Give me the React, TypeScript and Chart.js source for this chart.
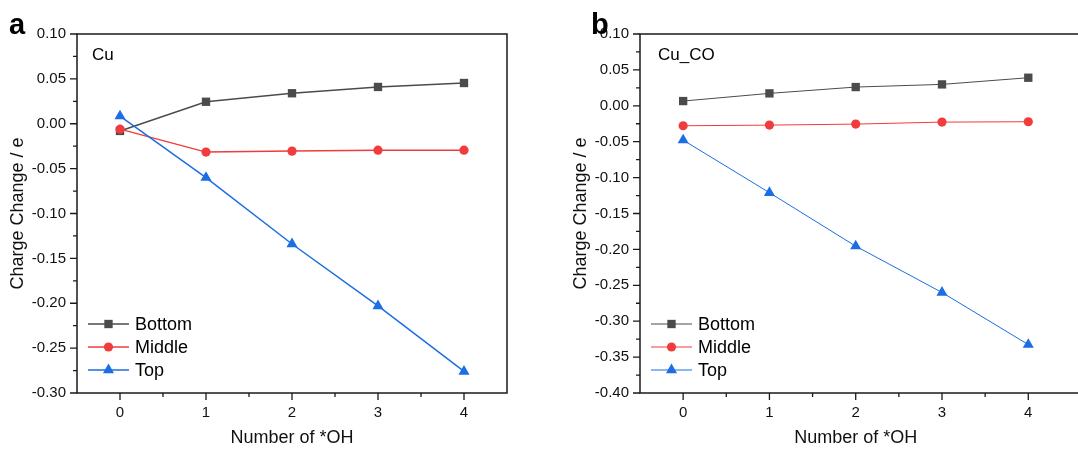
import React, { useEffect, useRef } from "react";
import { Chart, registerables } from "chart.js";

Chart.register(...registerables);

const xValues = [0, 1, 2, 3, 4];
const xTicks = [0, 1, 2, 3, 4];
const seriesNames = ["Bottom", "Middle", "Top"];
const seriesColors = ["#4b4b4b", "#f03c3c", "#1b6ee3"];
const seriesShapes = ["rect", "circle", "triangle"];
const seriesRadius = [5.9, 4.6, 6.4];

// Panel a: Cu
const cuBottom = [-0.008, 0.0245, 0.034, 0.041, 0.0454];
const cuMiddle = [-0.006, -0.0316, -0.0305, -0.0294, -0.0294];
const cuTop = [0.0086, -0.06, -0.134, -0.203, -0.276];
const yTicksA = [0.1, 0.05, 0.0, -0.05, -0.1, -0.15, -0.2, -0.25, -0.3];

// Panel b: Cu_CO
const cocBottom = [0.0066, 0.0173, 0.0261, 0.0298, 0.0391];
const cocMiddle = [-0.0278, -0.0269, -0.0255, -0.0227, -0.0222];
const cocTop = [-0.0478, -0.121, -0.1955, -0.26, -0.3326];
const yTicksB = [0.1, 0.05, 0.0, -0.05, -0.1, -0.15, -0.2, -0.25, -0.3, -0.35, -0.4];

const xTitle = "Number of *OH";
const yTitle = "Charge Change / e";

const FONT = "'Liberation Sans', Arial, sans-serif";

function drawMarker(ctx: CanvasRenderingContext2D, shape: string, x: number, y: number, r: number) {
  ctx.beginPath();
  if (shape === "rect") {
    const s = r * Math.SQRT1_2;
    ctx.rect(x - s, y - s, 2 * s, 2 * s);
  } else if (shape === "circle") {
    ctx.arc(x, y, r, 0, Math.PI * 2);
  } else {
    ctx.moveTo(x, y - r);
    ctx.lineTo(x + Math.sin((2 * Math.PI) / 3) * r, y + r / 2);
    ctx.lineTo(x - Math.sin((2 * Math.PI) / 3) * r, y + r / 2);
    ctx.closePath();
  }
  ctx.fill();
}

const framePlugin = {
  id: "frame",
  afterDraw(chart: any, _args: any, opts: any) {
    const ctx: CanvasRenderingContext2D = chart.ctx;
    const { left, right, top, bottom } = chart.chartArea;
    const xs = chart.scales.x;
    const ys = chart.scales.y;
    ctx.save();
    ctx.strokeStyle = "#1a1a1a";
    ctx.lineWidth = 1.5;
    ctx.strokeRect(left, top, right - left, bottom - top);
    ctx.lineWidth = 1.3;
    ctx.beginPath();
    const yt: number[] = ys.ticks.map((t: any) => t.value);
    yt.forEach((v, i) => {
      const p = ys.getPixelForValue(v);
      ctx.moveTo(left - 7, p);
      ctx.lineTo(left, p);
      if (i < yt.length - 1) {
        const m = ys.getPixelForValue((v + yt[i + 1]) / 2);
        ctx.moveTo(left - 4, m);
        ctx.lineTo(left, m);
      }
    });
    const xt: number[] = xs.ticks.map((t: any) => t.value);
    xt.forEach((v, i) => {
      const p = xs.getPixelForValue(v);
      ctx.moveTo(p, bottom);
      ctx.lineTo(p, bottom + 7);
      if (i < xt.length - 1) {
        const m = xs.getPixelForValue((v + xt[i + 1]) / 2);
        ctx.moveTo(m, bottom);
        ctx.lineTo(m, bottom + 4);
      }
    });
    ctx.stroke();

    // x axis title, centred on the visible axis range
    ctx.fillStyle = "#111";
    ctx.font = `18px ${FONT}`;
    ctx.textAlign = "center";
    ctx.textBaseline = "middle";
    ctx.fillText(xTitle, xs.getPixelForValue((xt[0] + xt[xt.length - 1]) / 2), 438);

    // panel label
    ctx.fillStyle = "#000";
    ctx.font = `17px ${FONT}`;
    ctx.textBaseline = "middle";
    ctx.textAlign = "left";
    ctx.fillText(opts.label, left + opts.labelDx, top + 21);

    // legend
    chart.data.datasets.forEach((ds: any, i: number) => {
      const y = bottom - 69 + i * 23;
      ctx.strokeStyle = ds.borderColor;
      ctx.lineWidth = ds.borderWidth;
      ctx.beginPath();
      ctx.moveTo(left + 11, y);
      ctx.lineTo(left + 52, y);
      ctx.stroke();
      ctx.fillStyle = ds.pointBackgroundColor;
      drawMarker(ctx, ds.pointStyle, left + 31.5, y, ds.pointRadius);
      ctx.fillStyle = "#000";
      ctx.font = `18px ${FONT}`;
      ctx.fillText(ds.label, left + 58, y + 1);
    });
    ctx.restore();
  },
};

function makeConfig(
  series: number[][],
  yTicks: number[],
  label: string,
  labelDx: number,
  lw: number,
  xMax: number,
  padRight: number
): any {
  return {
    type: "line",
    data: {
      datasets: series.map((vals, i) => ({
        label: seriesNames[i],
        data: xValues.map((x, j) => ({ x, y: vals[j] })),
        borderColor: seriesColors[i],
        backgroundColor: seriesColors[i],
        pointBackgroundColor: seriesColors[i],
        pointBorderColor: seriesColors[i],
        pointBorderWidth: 0,
        borderWidth: lw,
        pointStyle: seriesShapes[i],
        pointRadius: seriesRadius[i],
        tension: 0,
        order: 3 - i,
      })),
    },
    options: {
      responsive: false,
      animation: false,
      layout: { padding: { top: 34, right: padRight, left: 0, bottom: 0 } },
      plugins: {
        legend: { display: false },
        tooltip: { enabled: false },
        frame: { label, labelDx },
      },
      scales: {
        x: {
          type: "linear",
          min: -0.5,
          max: xMax,
          grid: { display: false },
          border: { display: false },
          afterBuildTicks: (s: any) => {
            s.ticks = xTicks.map((v) => ({ value: v }));
          },
          afterFit: (s: any) => {
            s.height = 57;
          },
          ticks: {
            font: { family: FONT, size: 15 },
            color: "#111",
            padding: 3,
            maxRotation: 0,
            callback: (v: any) => String(v),
          },
          title: { display: false },
        },
        y: {
          type: "linear",
          min: yTicks[yTicks.length - 1],
          max: yTicks[0],
          grid: { display: false },
          border: { display: false },
          afterBuildTicks: (s: any) => {
            s.ticks = yTicks.slice().reverse().map((v) => ({ value: v }));
          },
          afterFit: (s: any) => {
            s.width = 77;
          },
          ticks: {
            font: { family: FONT, size: 15 },
            color: "#111",
            padding: 3,
            callback: (v: any) => Number(v).toFixed(2),
          },
          title: {
            display: true,
            text: yTitle,
            font: { family: FONT, size: 18 },
            color: "#111",
            padding: { top: 7, bottom: 0 },
          },
        },
      },
    },
    plugins: [framePlugin],
  };
}

function Panel(props: { config: any; left: number }) {
  const ref = useRef<HTMLCanvasElement>(null);
  useEffect(() => {
    if (!ref.current) return;
    const chart = new Chart(ref.current, props.config);
    return () => chart.destroy();
  }, []);
  return (
    <canvas
      ref={ref}
      width={540}
      height={450}
      style={{ position: "absolute", left: props.left, top: 0, width: 540, height: 450 }}
    />
  );
}

export default function App() {
  const cfgA = makeConfig([cuBottom, cuMiddle, cuTop], yTicksA, "Cu", 15, 1.5, 4.5, 33);
  const cfgB = makeConfig([cocBottom, cocMiddle, cocTop], yTicksB, "Cu_CO", 18, 1, 4.75, 10);
  const letter: React.CSSProperties = {
    position: "absolute",
    top: 7,
    font: `bold 29px ${FONT}`,
    color: "#000",
    lineHeight: "34px",
  };
  return (
    <div
      style={{
        position: "fixed",
        left: 0,
        top: 0,
        width: 1078,
        height: 450,
        overflow: "hidden",
        background: "#fff",
      }}
    >
      <Panel config={cfgA} left={0} />
      <Panel config={cfgB} left={563} />
      <div style={{ ...letter, left: 9 }}>a</div>
      <div style={{ ...letter, left: 591 }}>b</div>
    </div>
  );
}
